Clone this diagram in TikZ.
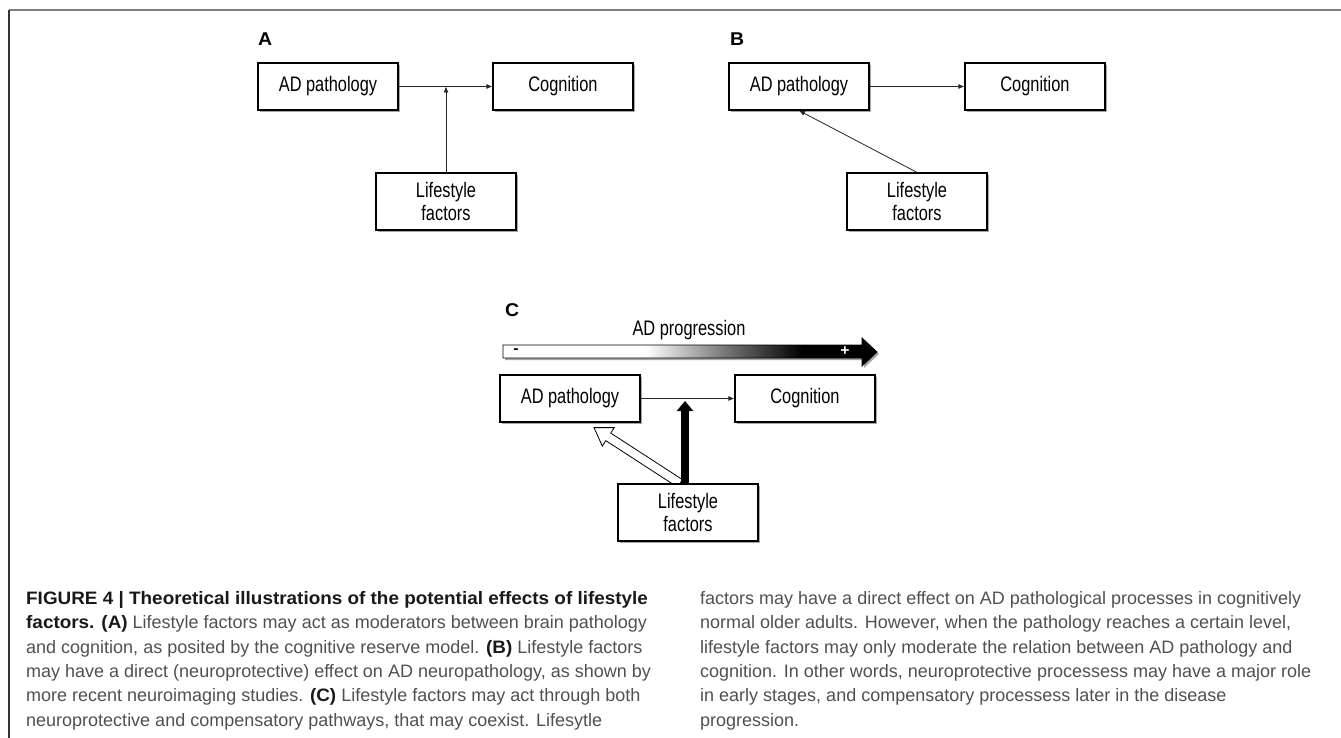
\documentclass[tikz,border=0pt]{standalone}
\usepackage{fontspec}
\setmainfont{Liberation Sans}[BoldFeatures={FakeStretch=1.05}]
\newfontfamily\diagfont[FakeStretch=0.78]{Liberation Sans}
\usetikzlibrary{arrows.meta,shadows,calc}
\pgfdeclarelayer{bg}
\pgfsetlayers{bg,main}
\pgfdeclarehorizontalshading{progshade}{100bp}{color(0bp)=(white); color(44bp)=(white); color(55bp)=(black!55); color(65bp)=(black); color(100bp)=(black)}
\definecolor{captxt}{HTML}{505050}
\definecolor{framegray}{HTML}{7F7F7F}
\newcommand\capb[1]{\textcolor{black!90}{\textbf{#1}}}
\begin{document}
\begin{tikzpicture}[x=1pt,y=-1pt,
  box/.style={draw=black, line width=1.2pt, fill=white, minimum width=140pt, minimum height=47pt, inner sep=0pt, font=\diagfont\fontsize{21}{23}\selectfont, align=center, drop shadow={shadow xshift=2pt, shadow yshift=-2pt, opacity=0.35, fill=black}},
  tallbox/.style={box, minimum height=57pt},
  plabel/.style={font=\bfseries\fontsize{18.5}{22}\selectfont, anchor=base west, inner sep=0pt},
  conn/.style={draw=black!85, line width=0.8pt, -{Latex[length=6pt,width=5pt]}},
  capline/.style={anchor=base west, inner sep=0pt, font=\fontsize{18}{22}\selectfont, text=captxt},
]
\useasboundingbox (0,0) rectangle (1341,738);
% frame
\draw[framegray, line width=2pt] (9,10) -- (1341,10);
\draw[black!80, line width=1.5pt] (9,10) -- (9,738);

% ---------- panel A
\node[plabel] (la) at (258,46) {A};
\node[box] (ada) at (328,86.5) {AD pathology};
\node[box] (cga) at (563,86.5) {Cognition};
\node[tallbox] (lfa) at (446,201.5) {Lifestyle\\factors};
\draw[conn] (ada.east) -- (cga.west);
\draw[conn] (lfa.north) -- (lfa.north |- ada.east);

% ---------- panel B
\node[plabel] (lb) at (730,46) {B};
\node[box] (adb) at (799,86.5) {AD pathology};
\node[box] (cgb) at (1035,86.5) {Cognition};
\node[tallbox] (lfb) at (917,201.5) {Lifestyle\\factors};
\draw[conn] (adb.east) -- (cgb.west);
\draw[conn] (lfb.north) -- (adb.south);

% ---------- panel C
\node[plabel] (lc) at (505,316) {C};
\node[anchor=base, inner sep=0pt, font=\diagfont\fontsize{21}{23}\selectfont] (prog) at (689,335) {AD progression};
\path[draw=black, line width=0.8pt, shading=progshade, drop shadow={shadow xshift=2pt, shadow yshift=-2pt, opacity=0.35, fill=black}]
  (503,345) -- (862,345) -- (862,338) -- (877,352) -- (862,366) -- (862,358) -- (503,358) -- cycle;
\node[inner sep=0pt, font=\bfseries\fontsize{15}{15}\selectfont] (minus) at (516,351.5) {-};
\node[inner sep=0pt, text=white, font=\bfseries\fontsize{15}{15}\selectfont] (plus) at (845,351.5) {+};

\node[box] (adc) at (570,398.5) {AD pathology};
\node[box] (cgc) at (805,398.5) {Cognition};
\node[tallbox] (lfc) at (688,512.5) {Lifestyle\\factors};
\draw[conn] (adc.east) -- (cgc.west);
\begin{pgfonlayer}{bg}
% hollow arrow
\coordinate (wT) at ($(adc.south)+(24,5)$);
\coordinate (wS) at ($(lfc.north)+(-8,0)$);
\coordinate (wB) at ($(wT)!17pt!(wS)$);
\path[draw=black, fill=white, line width=0.8pt, line join=miter]
  (wT) -- ($(wB)!11pt!90:(wS)$) -- ($(wB)!4.5pt!90:(wS)$) -- ($(wS)!4.5pt!-90:(wB)$)
  -- ($(wS)!4.5pt!90:(wB)$) -- ($(wB)!4.5pt!-90:(wS)$) -- ($(wB)!11pt!-90:(wS)$) -- cycle;
% black arrow
\draw[black, line width=8pt, -{Triangle[length=10pt,width=16pt]}] ($(lfc.north)+(-3,2)$) -- ($(lfc.north |- adc.east)+(-3,2.5)$);
\end{pgfonlayer}

% ---------- caption
\node[capline] (c1) at (26,604) {\capb{FIGURE 4 | Theoretical illustrations of the potential effects of lifestyle}};
\node[capline] (c2) at (26,628.5) {\capb{factors. (A)} Lifestyle factors may act as moderators between brain pathology};
\node[capline] (c3) at (26,653) {and cognition, as posited by the cognitive reserve model. \capb{(B)} Lifestyle factors};
\node[capline] (c4) at (26,677) {may have a direct (neuroprotective) effect on AD neuropathology, as shown by};
\node[capline] (c5) at (26,701.5) {more recent neuroimaging studies. \capb{(C)} Lifestyle factors may act through both};
\node[capline] (c6) at (26,726) {neuroprotective and compensatory pathways, that may coexist. Lifesytle};
\node[capline] (d1) at (700,604) {factors may have a direct effect on AD pathological processes in cognitively};
\node[capline] (d2) at (700,628.5) {normal older adults. However, when the pathology reaches a certain level,};
\node[capline] (d3) at (700,653) {lifestyle factors may only moderate the relation between AD pathology and};
\node[capline] (d4) at (700,677) {cognition. In other words, neuroprotective processess may have a major role};
\node[capline] (d5) at (700,701.5) {in early stages, and compensatory processess later in the disease};
\node[capline] (d6) at (700,726) {progression.};
\end{tikzpicture}
\end{document}
